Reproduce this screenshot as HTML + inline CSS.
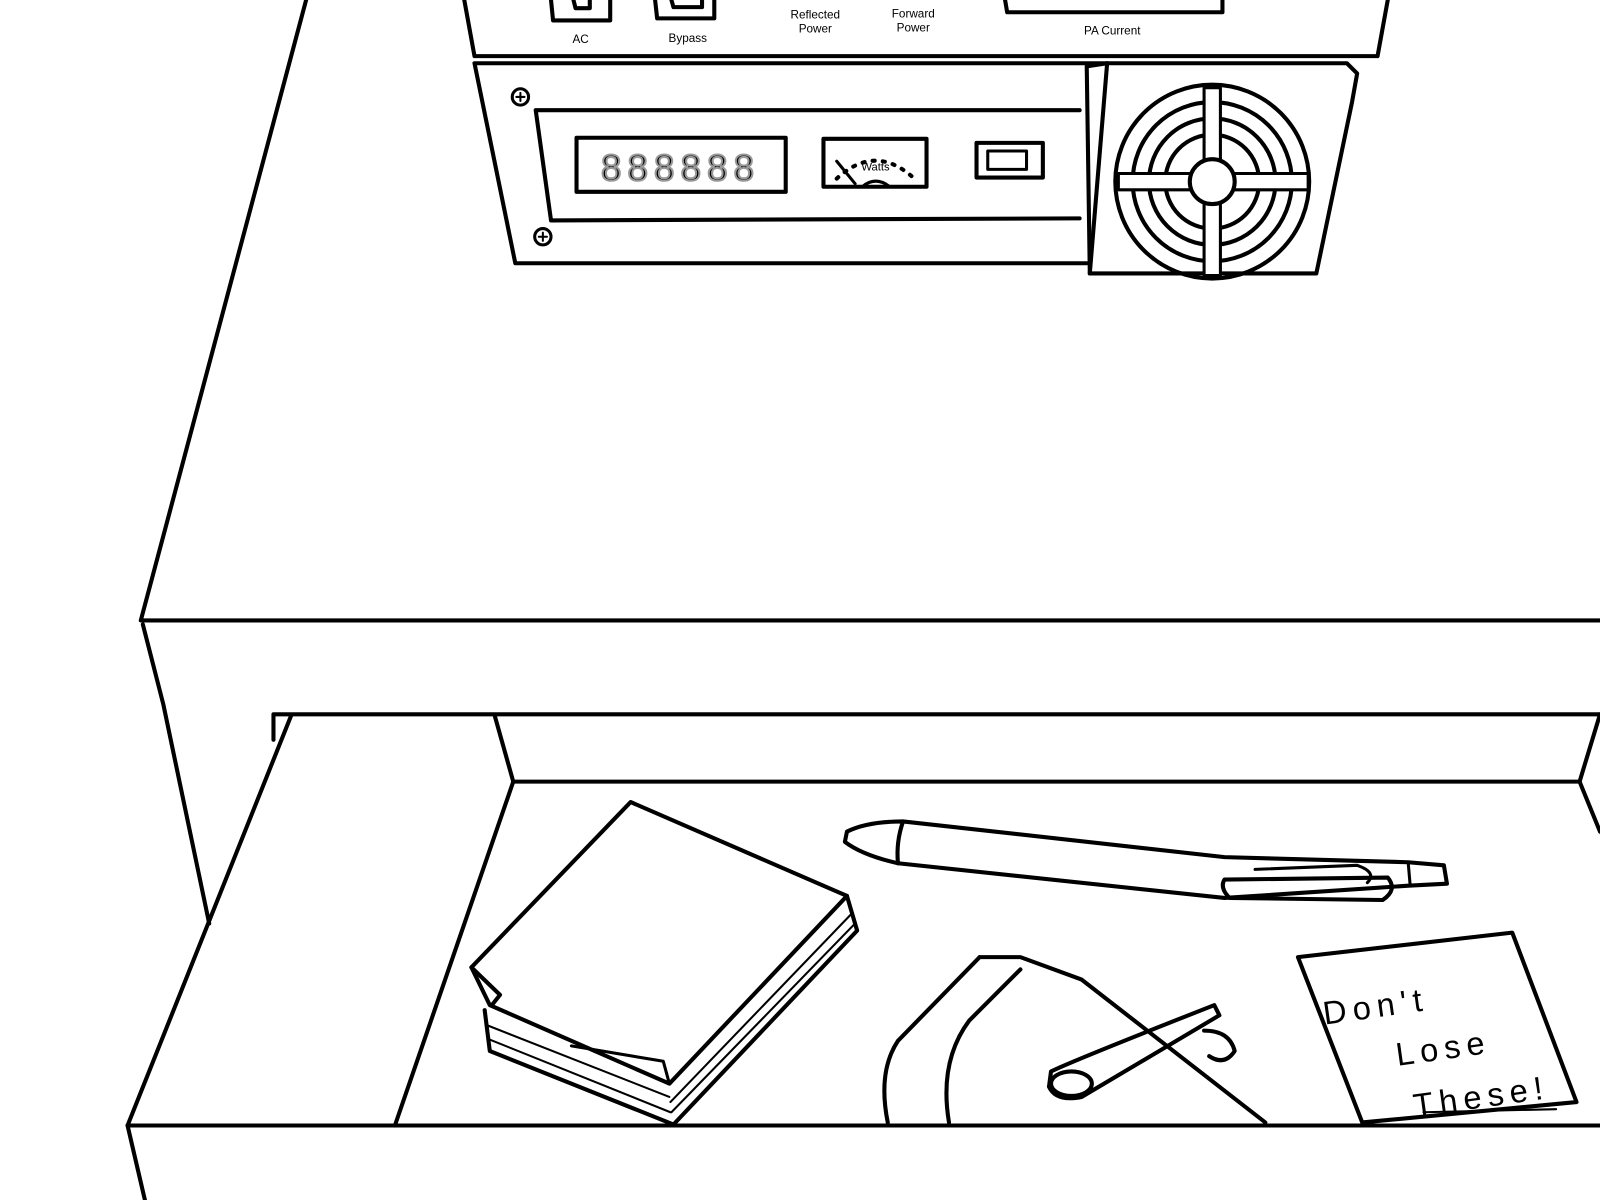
<!DOCTYPE html>
<html><head><meta charset="utf-8"><style>
html,body{margin:0;padding:0;background:#fff;}
svg{display:block;}
text{font-family:"Liberation Sans",sans-serif;fill:#000;}
</style></head><body>
<svg width="1600" height="1200" viewBox="0 0 1568 1176" preserveAspectRatio="none" xmlns="http://www.w3.org/2000/svg">
<g fill="none" stroke="#000" stroke-width="4" stroke-linejoin="round" stroke-linecap="round">
<!-- desk -->
<path d="M300,0 L138,608 L1568,608"/>
<path d="M140,612 L160,690 L205,905"/>
<path d="M268,725 L268,700 L1568,700"/>
<path d="M285,702 L125,1103 L1568,1103"/>
<path d="M125,1103 L142,1176"/>
<path d="M485,702 L503,766 L1548,766 L1568,700"/>
<path d="M1548,766 L1568,815"/>
<path d="M503,766 L387,1103"/>
<!-- equipment upper -->
<path d="M455,0 L465,55 L1350,55 L1360,0"/>
<path d="M540,0 L542,20 L598,20 L598,0"/>
<path d="M562,0 L564,8 L578,8 L578,0"/>
<path d="M642,0 L644,18 L700,18 L700,0"/>
<path d="M658,0 L660,7 L688,7 L688,0"/>
<path d="M985,0 L987,12 L1198,12 L1198,0"/>
<!-- lower panel -->
<path d="M465,62 L1085,62 M465,62 L505,258 L1065,258"/>
<path d="M525,108 L1058,108 M525,108 L540,216 L1058,214"/>
<rect x="565" y="135" width="205" height="53" stroke-width="4"/>
<rect x="807" y="136" width="101" height="47"/>
<rect x="957" y="140" width="65" height="34"/>
<rect x="968" y="148" width="38" height="18" stroke-width="3"/>
<circle cx="510" cy="95" r="8" stroke-width="3"/>
<circle cx="532" cy="232" r="8" stroke-width="3"/>
<path d="M506,95 h8 M510,91 v8 M528,232 h8 M532,228 v8" stroke-width="2"/>
<!-- fan -->
<path d="M1065,65 L1085,62 L1320,62 L1330,72 L1325,100 L1290,268 L1068,268 Z"/>
<path d="M1085,62 L1068,268"/>
<circle cx="1188" cy="178" r="95"/>
<circle cx="1188" cy="178" r="78"/>
<circle cx="1188" cy="178" r="62"/>
<circle cx="1188" cy="178" r="46"/>
<path d="M1096,170 L1282,170 L1282,186 L1096,186 Z M1180,86 L1196,86 L1196,270 L1180,270 Z" fill="#fff" stroke-width="3"/>
<circle cx="1188" cy="178" r="22" fill="#fff"/>
<!-- meter -->
<path d="M820,175 Q858,140 896,175" stroke-dasharray="2 8" stroke-width="4"/>
<path d="M820,158 L838,180 M845,183 Q858,172 872,183" stroke-width="3"/>
<!-- notepad -->
<path d="M618,786 L830,878 L656,1062 L480,985 L462,948 Z"/>
<path d="M462,948 L490,975 L482,985"/>
<path d="M830,878 L840,912 L660,1102 L480,1030 L475,990"/>
<path d="M835,895 L657,1080 M838,905 L658,1090 M478,1005 L656,1075 M478,1018 L657,1090" stroke-width="2"/>
<path d="M560,1025 L650,1040 L656,1062" stroke-width="3"/>
<!-- pen -->
<path d="M830,815 Q850,805 885,805 L1200,840 L1380,845 L1415,848 L1418,866 L1380,868 L1200,880 L880,846 Q845,838 828,825 Z"/>
<path d="M885,805 Q878,825 880,846"/>
<path d="M1200,862 L1360,860 Q1370,872 1355,882 L1205,880 Q1195,870 1200,862 Z"/>
<path d="M1230,852 L1330,848 Q1350,855 1340,865" stroke-width="3"/>
<path d="M1380,845 L1382,868" stroke-width="3"/>
<!-- key fob -->
<path d="M960,938 L1000,938 L1060,960 L1240,1100 M960,938 L880,1020 Q860,1050 870,1100 M930,1100 Q920,1040 950,1000 L1000,950"/>
<path d="M1030,1050 Q1050,1040 1190,985 L1195,995 L1060,1075 Q1035,1080 1028,1065 Z"/>
<ellipse cx="1050" cy="1062" rx="20" ry="12"/>
<path d="M1180,1010 Q1205,1010 1210,1030 Q1200,1045 1185,1035"/>
<!-- note -->
<path d="M1272,938 L1482,914 L1545,1080 L1335,1100 Z"/>
<path d="M1395,1090 L1525,1087" stroke-width="2"/>
</g>
<g font-size="11.5" text-anchor="middle">
<text x="569" y="42">AC</text>
<text x="674" y="41">Bypass</text>
<text x="799" y="18">Reflected</text>
<text x="799" y="32">Power</text>
<text x="895" y="17">Forward</text>
<text x="895" y="31">Power</text>
<text x="1090" y="34">PA Current</text>
<text x="858" y="167" font-size="11">Watts</text>
</g>
<text x="667" y="177" text-anchor="middle" font-family="Liberation Mono" font-size="36" fill="#fff" stroke="#999" stroke-width="2" letter-spacing="6">888888</text>
<g font-family="Liberation Sans" font-size="32" fill="#000" font-weight="300" transform="rotate(-8 1400 1010)">
<text x="1300" y="990" letter-spacing="6">Don't</text>
<text x="1365" y="1040" letter-spacing="6">Lose</text>
<text x="1375" y="1092" letter-spacing="6">These!</text>
</g>
</svg>
</body></html>
